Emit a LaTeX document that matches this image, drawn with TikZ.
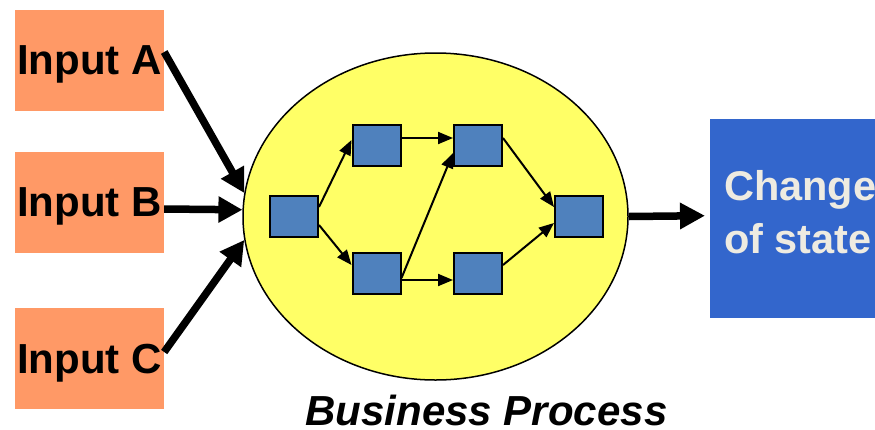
\documentclass[tikz,border=0pt]{standalone}
\usepackage{fontspec}
\setmainfont{Liberation Sans}
\usetikzlibrary{arrows.meta,shapes.geometric}
\definecolor{inputfill}{HTML}{FF9966}
\definecolor{procfill}{HTML}{FFFF66}
\definecolor{stepfill}{HTML}{4F81BD}
\definecolor{statefill}{HTML}{3366CC}
\definecolor{statetext}{HTML}{EEEBE1}
\begin{document}
\begin{tikzpicture}[x=1pt,y=-1pt,
  inputbox/.style={rectangle, fill=inputfill, minimum width=149pt, minimum height=101pt,
    inner sep=0pt, text depth=0pt, font=\fontsize{42}{50}\selectfont\bfseries},
  stepbox/.style={rectangle, draw=black, line width=2pt, fill=stepfill,
    minimum width=48pt, minimum height=41pt, inner sep=0pt},
  flow/.style={line width=2pt, -{Triangle[length=15pt,width=12pt]}},
  bigarrow/.style={line width=7.5pt, -{Triangle[length=24pt,width=25pt]}},
  outarrow/.style={line width=7.5pt, -{Triangle[length=25pt,width=25pt]}}]
\useasboundingbox (0,0) rectangle (875,429);

% inputs
\node[inputbox] (InA) at (89.5,60.5) {Input A};
\node[inputbox] (InB) at (89.5,202.5) {Input B};
\node[inputbox] (InC) at (89.5,358.5) {Input C};

% the process
\node[ellipse, draw=black, line width=1.5pt, fill=procfill,
      minimum width=385pt, minimum height=327pt, inner sep=0pt] (E) at (435.5,216.5) {};

\node[stepbox] (B1) at (294,216.5) {};
\node[stepbox] (B2) at (376.5,145.5) {};
\node[stepbox] (B3) at (376.5,273.5) {};
\node[stepbox] (B4) at (478,145.5) {};
\node[stepbox] (B5) at (478,273.5) {};
\node[stepbox] (B6) at (579,216.5) {};

\draw[flow] ([yshift=9.5pt]B1.east) -- ([yshift=5.5pt]B2.west);
\draw[flow] ([yshift=-8.5pt]B1.east) -- ([yshift=8.5pt]B3.west);
\draw[flow] ([yshift=7.5pt]B2.east) -- ([yshift=7.5pt]B4.west);
\draw[flow] ([yshift=-6.5pt]B3.east) -- ([yshift=-6.5pt]B5.west);
\draw[flow] ([yshift=-4.5pt]B3.east) -- ([yshift=-7.5pt]B4.west);
\draw[flow] ([yshift=7.5pt]B4.east) -- ([yshift=9.5pt]B6.west);
\draw[flow] ([yshift=8.5pt]B5.east) -- ([yshift=-6.5pt]B6.west);

% inputs into the process
\draw[bigarrow] ([yshift=8.5pt]InA.east) -- (E.173);
\draw[bigarrow] ([yshift=-6.5pt]InB.east) -- (E.178);
\draw[bigarrow] ([yshift=6.5pt]InC.east) -- (E.187);

% result
\node[rectangle, fill=statefill, anchor=north west, minimum width=180pt,
      minimum height=199pt, inner sep=0pt] (CS) at (710,119) {};
\node[anchor=north west, inner sep=0pt, align=left, text=statetext,
      font=\fontsize{41.5}{53}\selectfont\bfseries] (CStext) at (724,170) {Change\\of state};
\draw[outarrow] (E.east) -- ([xshift=-5pt,yshift=3pt]CS.west);

% caption
\node[anchor=base, inner sep=0pt, font=\fontsize{42}{50}\selectfont\bfseries\itshape]
  (title) at (486.5,425) {Business Process};
\end{tikzpicture}
\end{document}
